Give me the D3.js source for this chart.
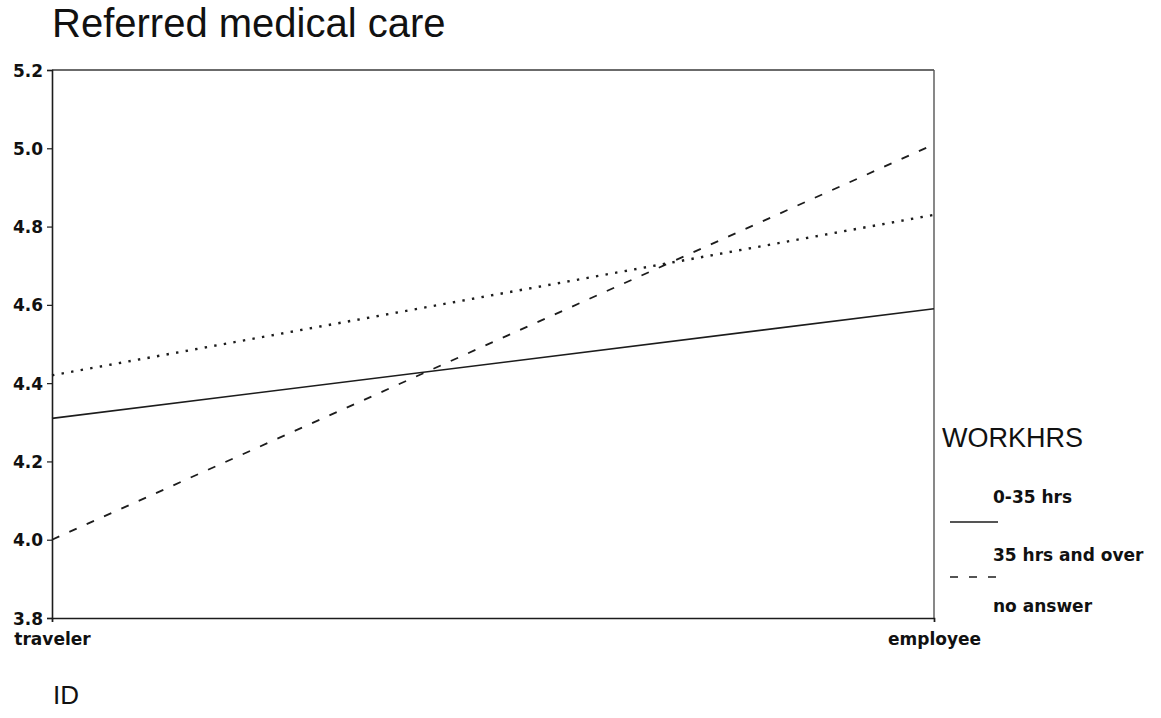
<!DOCTYPE html>
<html>
<head>
<meta charset="utf-8">
<script src="https://cdn.jsdelivr.net/npm/d3@7/dist/d3.min.js"></script>
<style>
  html, body { margin: 0; padding: 0; background: #fff; }
  svg { display: block; }
</style>
</head>
<body>
<svg id="chart" width="1161" height="718"></svg>
<script>
// ---- data ----
const categories = ["traveler", "employee"];
const seriesNames = ["0-35 hrs", "35 hrs and over", "no answer"];
const valuesZeroTo35 = [4.31, 4.59];
const valuesOver35 = [4.00, 5.01];
const valuesNoAnswer = [4.42, 4.83];
const yTicks = [3.8, 4.0, 4.2, 4.4, 4.6, 4.8, 5.0, 5.2];
const titleText = "Referred medical care";
const xAxisTitle = "ID";
const legendTitle = "WORKHRS";

(function () {
// ---- layout ----
const svg = d3.select("#chart");
const plotLeft = 52, plotRight = 934, plotTop = 70, plotBottom = 618;
const ink = "#1c1c1c";
const tickFont = "'DejaVu Sans', sans-serif";
const titleFont = "'Liberation Sans', Arial, sans-serif";

const x = d3.scalePoint().domain(categories).range([plotLeft, plotRight]);
const y = d3.scaleLinear().domain([3.8, 5.2]).range([plotBottom, plotTop]);

// frame: top and right (lighter)
svg.append("line").attr("x1", plotLeft).attr("x2", plotRight).attr("y1", y(5.2)).attr("y2", y(5.2))
  .attr("stroke", "#3a3a3a").attr("stroke-width", 1.3);
svg.append("line").attr("x1", plotRight).attr("x2", plotRight).attr("y1", plotTop).attr("y2", plotBottom)
  .attr("stroke", "#555").attr("stroke-width", 1.4);

// y axis
const yAxis = d3.axisLeft(y).tickValues(yTicks).tickFormat(d3.format(".1f")).tickSize(5).tickPadding(4);
const gy = svg.append("g").attr("transform", `translate(${plotLeft},0)`).call(yAxis);
gy.select(".domain").attr("stroke", ink).attr("stroke-width", 1.6);
gy.selectAll(".tick line").attr("stroke", ink).attr("stroke-width", 1.2);
gy.selectAll(".tick text").attr("font-family", tickFont).attr("font-weight", "bold")
  .attr("font-size", 17).attr("fill", "#111").attr("dy", "0.36em");

// x axis
const xAxis = d3.axisBottom(x).tickSize(4).tickPadding(11);
const gx = svg.append("g").attr("transform", `translate(0,${plotBottom})`).call(xAxis);
gx.select(".domain").attr("stroke", ink).attr("stroke-width", 1.6);
gx.selectAll(".tick line").attr("stroke", ink).attr("stroke-width", 1.2);
gx.selectAll(".tick text").attr("font-family", tickFont).attr("font-weight", "bold")
  .attr("font-size", 17).attr("fill", "#111");

// series
const series = [
  { name: seriesNames[0], values: valuesZeroTo35, dash: null, width: 1.6 },
  { name: seriesNames[1], values: valuesOver35, dash: "8,11", width: 1.8 },
  { name: seriesNames[2], values: valuesNoAnswer, dash: "2.4,7.3", width: 2.4 }
];
const line = d3.line().x((d, i) => x(categories[i])).y(d => y(d));
series.forEach(s => {
  svg.append("path").datum(s.values).attr("d", line)
    .attr("fill", "none").attr("stroke", ink).attr("stroke-width", s.width)
    .attr("stroke-dasharray", s.dash);
});

// title
svg.append("text").attr("x", 52).attr("y", 37).text(titleText)
  .attr("font-family", titleFont).attr("font-size", 40).attr("fill", "#111");

// x axis title
svg.append("text").attr("x", 53).attr("y", 704).text(xAxisTitle)
  .attr("font-family", titleFont).attr("font-size", 26).attr("fill", "#111");

// legend
svg.append("text").attr("x", 942).attr("y", 447).text(legendTitle)
  .attr("font-family", titleFont).attr("font-size", 27).attr("fill", "#111");
const legendLabelY = [503, 561, 612];
const legendLineY = [522, 577];
series.forEach((s, i) => {
  svg.append("text").attr("x", 993).attr("y", legendLabelY[i]).text(s.name)
    .attr("font-family", tickFont).attr("font-weight", "bold").attr("font-size", 17)
    .attr("fill", "#111");
  if (i < legendLineY.length) {
    svg.append("line").attr("x1", 950).attr("x2", 998)
      .attr("y1", legendLineY[i]).attr("y2", legendLineY[i])
      .attr("stroke", ink).attr("stroke-width", 1.4)
      .attr("stroke-dasharray", s.dash);
  }
});
})();
</script>
</body>
</html>
